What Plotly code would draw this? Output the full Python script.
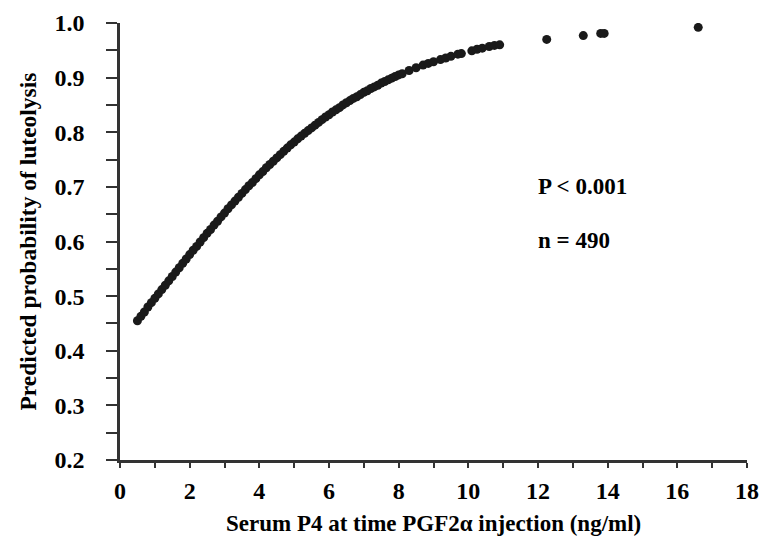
import plotly.graph_objects as go

# Serum P4 (ng/ml) and predicted probability of luteolysis
p4 = [0.5, 0.6, 0.7, 0.8, 0.9, 1.0, 1.1, 1.2, 1.3, 1.4, 1.5, 1.6, 1.7, 1.8, 1.9,
      2.0, 2.1, 2.2, 2.3, 2.4, 2.5, 2.6, 2.7, 2.8, 2.9, 3.0, 3.1, 3.2, 3.3, 3.4,
      3.5, 3.6, 3.7, 3.8, 3.9, 4.0, 4.1, 4.2, 4.3, 4.4, 4.5, 4.6, 4.7, 4.8, 4.9,
      5.0, 5.1, 5.2, 5.3, 5.4, 5.5, 5.6, 5.7, 5.8, 5.9, 6.0, 6.1, 6.2, 6.3, 6.4,
      6.5, 6.6, 6.7, 6.8, 6.9, 7.0, 7.1, 7.2, 7.3, 7.4, 7.5, 7.6, 7.7, 7.8, 7.9,
      8.0, 8.1, 8.3, 8.5, 8.7, 8.85, 9.0, 9.2, 9.35, 9.5, 9.7, 9.8, 10.1, 10.25,
      10.4, 10.6, 10.75, 10.9,
      12.25, 13.3, 13.8, 13.9, 16.6]
prob = [0.455, 0.463, 0.471, 0.480, 0.488, 0.496, 0.504, 0.512, 0.520, 0.528,
        0.536, 0.544, 0.552, 0.560, 0.568, 0.576, 0.584, 0.591, 0.599, 0.607,
        0.615, 0.622, 0.630, 0.637, 0.645, 0.652, 0.660, 0.667, 0.674, 0.681,
        0.688, 0.695, 0.702, 0.708, 0.715, 0.722, 0.728, 0.735, 0.741, 0.747,
        0.753, 0.759, 0.765, 0.771, 0.777, 0.782, 0.788, 0.793, 0.798, 0.803,
        0.808, 0.813, 0.818, 0.823, 0.828, 0.832, 0.837, 0.841, 0.845, 0.850,
        0.854, 0.858, 0.862, 0.865, 0.869, 0.873, 0.876, 0.880, 0.883, 0.886,
        0.890, 0.893, 0.896, 0.899, 0.902, 0.905, 0.907, 0.913, 0.918, 0.923,
        0.926, 0.929, 0.933, 0.936, 0.939, 0.943, 0.944, 0.949, 0.952,
        0.954, 0.957, 0.959, 0.960,
        0.970, 0.977, 0.981, 0.981, 0.992]

x_ticks = [0, 2, 4, 6, 8, 10, 12, 14, 16, 18]
y_ticks = [0.2, 0.3, 0.4, 0.5, 0.6, 0.7, 0.8, 0.9, 1.0]
y_tick_text = ["0.2", "0.3", "0.4", "0.5", "0.6", "0.7", "0.8", "0.9", "1.0"]

FONT = "Liberation Serif"
AX = "#333333"
W, H = 759, 536
L, R, T, B = 120, 12, 23, 76
PW, PH = W - L - R, H - T - B

fig = go.Figure()
fig.add_trace(go.Scatter(
    x=p4, y=prob, mode="markers",
    marker=dict(size=9, color="#1a1a1a", line=dict(width=0)),
    showlegend=False, hoverinfo="x+y"))

fig.update_layout(
    width=W, height=H,
    margin=dict(l=L, r=R, t=T, b=B, autoexpand=False),
    paper_bgcolor="white", plot_bgcolor="white",
    font=dict(family=FONT, color="black"),
    xaxis=dict(
        range=[0, 18], tickvals=x_ticks, ticktext=[str(v) for v in x_ticks],
        showgrid=False, zeroline=False, automargin=False,
        showline=True, linecolor=AX, linewidth=2.5,
        ticks="outside", ticklen=5, tickwidth=2, tickcolor=AX,
        minor=dict(dtick=1, tick0=0, ticks="outside", ticklen=5, tickwidth=2, tickcolor=AX),
        tickfont=dict(family=FONT, size=24, color="black", weight="bold"),
        ticklabelstandoff=2,
    ),
    yaxis=dict(
        range=[0.2, 1.0], tickvals=y_ticks, ticktext=y_tick_text,
        showgrid=False, zeroline=False, automargin=False,
        showline=True, linecolor=AX, linewidth=2.5,
        ticks="outside", ticklen=11, tickwidth=2, tickcolor=AX,
        minor=dict(dtick=0.05, tick0=0.2, ticks="outside", ticklen=11, tickwidth=2, tickcolor=AX),
        tickfont=dict(family=FONT, size=24, color="black", weight="bold"),
        ticklabelstandoff=17,
    ),
    annotations=[
        dict(text="Serum P4 at time PGF2α injection (ng/ml)", xref="paper", yref="paper",
             x=0.5, y=-(523 - (T + PH)) / PH, xanchor="center", yanchor="middle",
             showarrow=False,
             font=dict(family=FONT, size=23, color="black", weight="bold")),
        dict(text="Predicted probability of luteolysis", xref="paper", yref="paper",
             x=(27 - L) / PW, y=0.5, xanchor="center", yanchor="middle", showarrow=False,
             textangle=-90,
             font=dict(family=FONT, size=23.5, color="black", weight="bold")),
        dict(text="P < 0.001", xref="paper", yref="paper",
             x=(536 - L) / PW, y=(T + PH - 186) / PH, xanchor="left", yanchor="middle",
             showarrow=False, font=dict(family=FONT, size=23, color="black", weight="bold")),
        dict(text="n = 490", xref="paper", yref="paper",
             x=(536 - L) / PW, y=(T + PH - 241) / PH, xanchor="left", yanchor="middle",
             showarrow=False, font=dict(family=FONT, size=23, color="black", weight="bold")),
    ],
)

fig.write_html(
    "out.html",
    config={"displayModeBar": False},
    post_script="document.body.style.margin='0';document.body.style.padding='0';"
                "document.body.style.overflow='hidden';",
)
